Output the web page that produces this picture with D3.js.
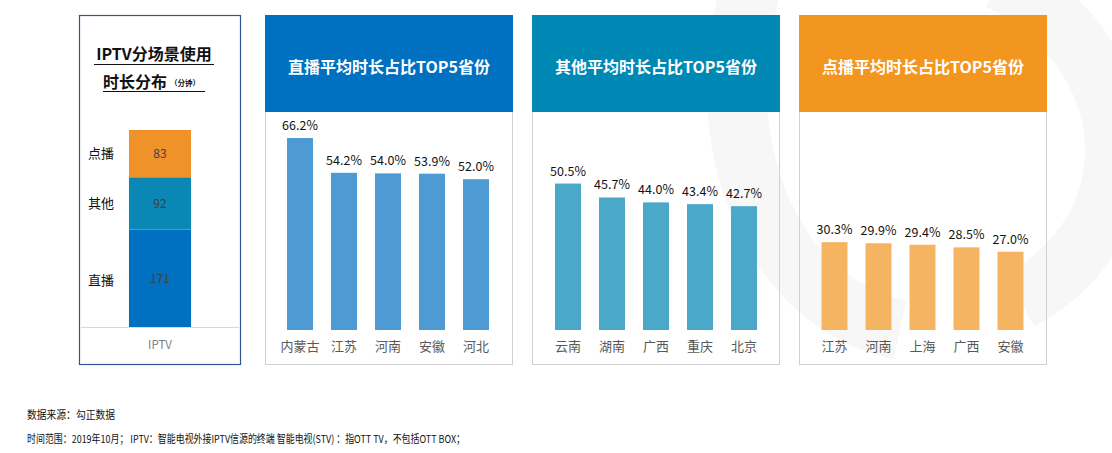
<!DOCTYPE html>
<html><head><meta charset="utf-8">
<script src="https://cdn.jsdelivr.net/npm/d3@7/dist/d3.min.js"></script>
<style>
html,body{margin:0;padding:0;background:#fff;}
text{font-family:"Noto Sans CJK SC","Noto Sans",sans-serif;}
</style></head>
<body>
<svg id="c" width="1112" height="453"></svg>
<script>
// ---- data ----
const stackCategory = ["IPTV"];
const stackSegments = ["直播", "其他", "点播"];
const stackValues = [171, 92, 83];

const liveProvinces = ["内蒙古", "江苏", "河南", "安徽", "河北"];
const liveShares = [66.2, 54.2, 54.0, 53.9, 52.0];

const otherProvinces = ["云南", "湖南", "广西", "重庆", "北京"];
const otherShares = [50.5, 45.7, 44.0, 43.4, 42.7];

const vodProvinces = ["江苏", "河南", "上海", "广西", "安徽"];
const vodShares = [30.3, 29.9, 29.4, 28.5, 27.0];

const panelTitles = ["直播平均时长占比TOP5省份", "其他平均时长占比TOP5省份", "点播平均时长占比TOP5省份"];
const footnotes = ["数据来源：勾正数据", "时间范围：2019年10月；  IPTV：智能电视外接IPTV信源的终端  智能电视(STV) ：指OTT TV，不包括OTT BOX；"];

// ---- drawing ----
const svg = d3.select("#c");

// faint watermark
const wm = svg.append("g").attr("fill", "none").attr("stroke", "#f7f7f7").attr("stroke-width", 60);
wm.append("path").attr("d", "M760,-40 C700,120 760,300 900,330");
wm.append("path").attr("d", "M1000,-20 C1150,60 1150,230 1020,300");

// Panel 1: stacked bar
const p1 = svg.append("g");
p1.append("rect").attr("x", 79.5).attr("y", 15.5).attr("width", 161).attr("height", 349)
  .attr("fill", "#fff").attr("stroke", "#2f5597").attr("stroke-width", 1.2);
p1.append("text").attr("x", 154).attr("y", 60).attr("text-anchor", "middle")
  .attr("font-size", 16).attr("font-weight", "bold").attr("fill", "#111").text("IPTV分场景使用");
p1.append("line").attr("x1", 94).attr("x2", 214).attr("y1", 64.5).attr("y2", 64.5).attr("stroke", "#111").attr("stroke-width", 1.2);
const t2 = p1.append("text").attr("x", 103).attr("y", 88).attr("font-weight", "bold").attr("fill", "#111");
t2.append("tspan").attr("font-size", 16).text("时长分布");
t2.append("tspan").attr("font-size", 7.5).attr("dx", 3).attr("dy", -2).text("（分钟）");
p1.append("line").attr("x1", 103).attr("x2", 205).attr("y1", 91.5).attr("y2", 91.5).attr("stroke", "#111").attr("stroke-width", 1.2);

const sColors = {"直播": "#0070c0", "其他": "#0a87b4", "点播": "#f0922a"};
const sx = d3.scaleBand().domain(stackCategory).range([81, 239]).padding(0.436);
const total = d3.sum(stackValues);
const sy = d3.scaleLinear().domain([0, total]).range([327, 130]);
const stackData = [Object.fromEntries([["cat", stackCategory[0]], ...stackSegments.map((k, i) => [k, stackValues[i]])])];
const series = d3.stack().keys(stackSegments)(stackData);
series.forEach(s => {
  const d = s[0];
  const bx = sx(stackCategory[0]);
  p1.append("rect").attr("x", bx).attr("width", sx.bandwidth())
    .attr("y", sy(d[1])).attr("height", sy(d[0]) - sy(d[1])).attr("fill", sColors[s.key]);
  const cy = (sy(d[0]) + sy(d[1])) / 2;
  p1.append("text").attr("x", bx + sx.bandwidth() / 2).attr("y", cy).attr("dy", "0.35em")
    .attr("text-anchor", "middle").attr("font-size", 12).attr("fill", "#404040").text(d.data[s.key]);
  p1.append("text").attr("x", 88).attr("y", cy + (s.key === "直播" ? 2 : 0)).attr("dy", "0.35em")
    .attr("font-size", 13).attr("fill", "#111").text(s.key);
});
p1.append("line").attr("x1", 81).attr("x2", 239).attr("y1", 327.5).attr("y2", 327.5).attr("stroke", "#d9d9d9");
const sxAxis = p1.append("g").attr("transform", "translate(0,327)")
  .call(d3.axisBottom(sx).tickSize(0).tickPadding(14));
sxAxis.select(".domain").remove();
sxAxis.selectAll("text").attr("font-size", 11.5).attr("fill", "#7f7f7f").attr("font-family", "'Noto Sans',sans-serif");

// Bar panels
const y = d3.scaleLinear().domain([0, 100]).range([330, 40]);
const panels = [
  {x0: 265, cats: liveProvinces, vals: liveShares, head: "#0070c0", bar: "#4e9bd4", title: panelTitles[0], r: [278, 498]},
  {x0: 532, cats: otherProvinces, vals: otherShares, head: "#0088b4", bar: "#4aa8c9", title: panelTitles[1], r: [546, 766]},
  {x0: 799, cats: vodProvinces, vals: vodShares, head: "#f39620", bar: "#f5b462", title: panelTitles[2], r: [812.5, 1032.5]}
];
panels.forEach(p => {
  const g = svg.append("g");
  g.append("rect").attr("x", p.x0 + 0.5).attr("y", 15.5).attr("width", 247).attr("height", 349)
    .attr("fill", "none").attr("stroke", "#d0d0d0");
  g.append("rect").attr("x", p.x0).attr("y", 15).attr("width", 248).attr("height", 97).attr("fill", p.head);
  g.append("text").attr("x", p.x0 + 124).attr("y", 67).attr("dy", "0.35em").attr("text-anchor", "middle")
    .attr("font-size", 16).attr("font-weight", "bold").attr("fill", "#fff").text(p.title);
  const x = d3.scaleBand().domain(p.cats).range(p.r).paddingInner(0.41).paddingOuter(0.205);
  g.selectAll(".bar").data(p.vals).join("rect")
    .attr("x", (d, i) => x(p.cats[i])).attr("width", x.bandwidth())
    .attr("y", d => y(d)).attr("height", d => y(0) - y(d)).attr("fill", p.bar);
  g.selectAll(".lbl").data(p.vals).join("text")
    .attr("x", (d, i) => x(p.cats[i]) + x.bandwidth() / 2).attr("y", d => y(d) - 8)
    .attr("text-anchor", "middle").attr("font-size", 12.5).attr("fill", "#111")
    .attr("font-family", "'Liberation Sans',Arial,sans-serif")
    .text(d => d.toFixed(1) + "%");
  const ax = g.append("g").attr("transform", "translate(0,330)")
    .call(d3.axisBottom(x).tickSize(0).tickPadding(12));
  ax.select(".domain").remove();
  ax.selectAll("text").attr("font-size", 13).attr("fill", "#595959");
});

// footnotes
svg.append("text").attr("x", 27).attr("y", 419).attr("font-size", 11).attr("fill", "#111")
  .attr("textLength", 88).attr("lengthAdjust", "spacingAndGlyphs").text(footnotes[0]);
svg.append("text").attr("x", 27).attr("y", 443).attr("font-size", 11).attr("fill", "#111")
  .attr("textLength", 438).attr("lengthAdjust", "spacingAndGlyphs").text(footnotes[1]);
</script>
</body></html>
